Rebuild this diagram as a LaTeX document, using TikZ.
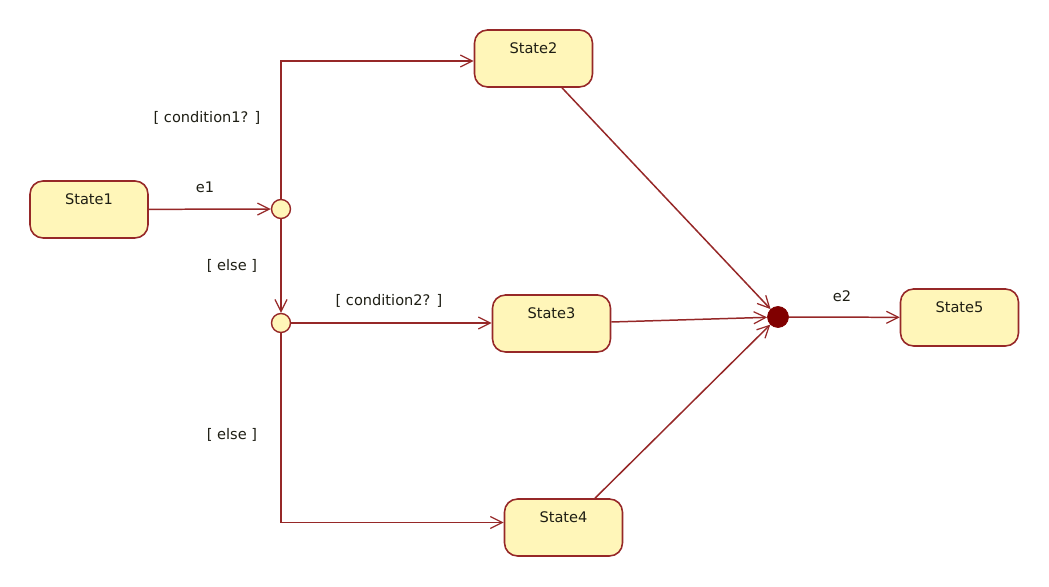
\documentclass[tikz,border=0pt]{standalone}
\usepackage{fontspec}
\setmainfont{DejaVu Sans}
\usetikzlibrary{arrows.meta}
\definecolor{ln}{RGB}{150,40,40}
\definecolor{bx}{RGB}{255,246,185}
\definecolor{jn}{RGB}{128,0,0}
\definecolor{tx}{RGB}{30,30,20}
\begin{document}
\begin{tikzpicture}[x=0.02cm,y=-0.02cm,
  font=\fontsize{8.3}{10}\selectfont, text=tx,
  state/.style={draw=ln,line width=0.9pt,fill=bx,rounded corners=0.26cm,
    minimum width=2.36cm,inner xsep=0pt,inner ysep=0pt,
    text height=0.47cm,text depth=0.67cm},
  choice/.style={circle,draw=ln,line width=0.8pt,fill=bx,minimum size=0.38cm,inner sep=0pt},
  junc/.style={circle,draw=jn,fill=jn,minimum size=0.42cm,inner sep=0pt},
  tr/.style={draw=ln,line width=0.85pt,-{Straight Barb[length=2.4mm,width=2.4mm,line width=0.7pt]}},
  lbl/.style={inner sep=1pt}]
\useasboundingbox (0,0) rectangle (1049,587);
\node[state] (s1) at (89,209.5) {State1};
\node[state] (s2) at (533.5,58.5) {State2};
\node[state] (s3) at (551.5,323.5) {State3};
\node[state] (s4) at (563.5,527.5) {State4};
\node[state] (s5) at (959.5,317.5) {State5};
\node[choice] (c1) at (281,209) {};
\node[choice] (c2) at (281,323) {};
\node[junc] (j) at (778,317) {};
\draw[tr] (s1) -- (c1);
\draw[tr] (c1) |- ([yshift=-0.05cm]s2.west);
\draw[tr] (c1) -- (c2);
\draw[tr] (c2) -- (s3.west |- c2);
\draw[tr] (c2) |- ([yshift=0.1cm]s4.west);
\draw[tr] ([xshift=0.57cm]s2.south) -- (j);
\draw[tr] ([yshift=0.03cm]s3.east) -- (j);
\draw[tr] ([xshift=0.63cm]s4.north) -- (j);
\draw[tr] (j) -- (s5);
\node[lbl] (le1) at (205,187) {e1};
\node[lbl] (lc1) at (207,118) {[ condition1? ]};
\node[lbl] (le2) at (232,266) {[ else ]};
\node[lbl] (lc2) at (389,301) {[ condition2? ]};
\node[lbl] (le3) at (232,435) {[ else ]};
\node[lbl] (le4) at (842,296) {e2};
\end{tikzpicture}
\end{document}
